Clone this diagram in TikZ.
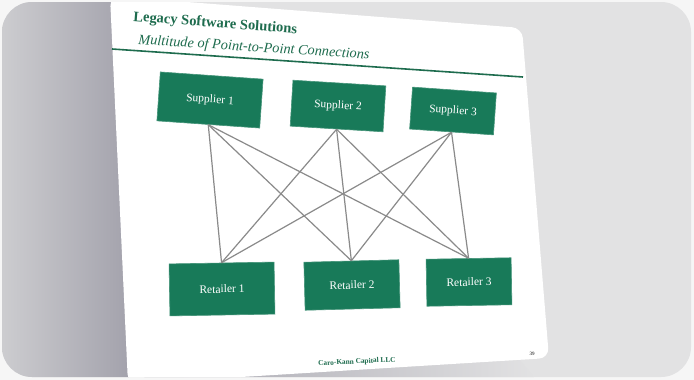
\documentclass[tikz,border=0pt]{standalone}
\usepackage{fontspec}
\setmainfont{Liberation Serif}
\usepackage{xcolor}
\usepackage{tikz}
\usetikzlibrary{positioning}
\definecolor{boxgreen}{RGB}{24,122,89}
\definecolor{titlegreen}{RGB}{30,108,78}
\definecolor{linkgray}{RGB}{138,138,138}
\definecolor{framebg}{RGB}{226,226,227}
\definecolor{outerbg}{RGB}{246,246,246}
\definecolor{shadeleft}{RGB}{205,205,208}
\definecolor{shaderight}{RGB}{163,162,172}
\tikzstyle{partybox} = [rectangle, fill=boxgreen, text=white, draw=boxgreen!80!white, line width=0.6pt, align=center, font=\fontsize{11.5}{13}\selectfont]
\tikzstyle{link} = [draw=linkgray, line width=1.2pt]
\tikzstyle{headline} = [anchor=base west, inner sep=0pt, text=titlegreen]

\begin{document}
\begin{tikzpicture}[x=1pt, y=-1pt]
\useasboundingbox (0,0) rectangle (694,380);
\fill[outerbg] (0,0) rectangle (694,380);
\begin{scope}
\clip[rounded corners=30pt] (2,2) rectangle (691,377);
\fill[framebg] (0,0) rectangle (694,380);
\shade[left color=shadeleft, right color=shaderight] (0,0) -- (111,0) -- (129,380) -- (0,380) -- cycle;
\shade[left color=shaderight, right color=framebg] (128,380) -- (128,378) -- (520,360) -- (536,380) -- cycle;
\fill[white, rounded corners=10pt] (110,-4) -- (522,28) -- (549,358) -- (128,384) -- cycle;
\end{scope}

% slide heading
\node[headline, rotate=-4.4, font=\bfseries\fontsize{14.5}{16}\selectfont] (title) at (133,21) {Legacy Software Solutions};
\node[headline, rotate=-3.7, font=\itshape\fontsize{14.3}{16}\selectfont] (subtitle) at (138,44) {Multitude of Point-to-Point Connections};
\draw[titlegreen, line width=1.6pt] (112,49) -- (523,77);

\node[partybox, rotate=-4, minimum width=103pt, minimum height=49pt] (supplier1) at (210,100) {Supplier 1};
\node[partybox, rotate=-3.5, minimum width=93pt, minimum height=46pt] (supplier2) at (338,106) {Supplier 2};
\node[partybox, rotate=-4, minimum width=84pt, minimum height=42pt] (supplier3) at (453,111) {Supplier 3};
\node[partybox, rotate=1, minimum width=105pt, minimum height=52pt] (retailer1) at (222,289) {Retailer 1};
\node[partybox, rotate=1.5, minimum width=95pt, minimum height=48pt] (retailer2) at (352,285) {Retailer 2};
\node[partybox, rotate=1, minimum width=85pt, minimum height=47pt] (retailer3) at (469,282) {Retailer 3};

\foreach \s in {1,2,3}
  \foreach \r in {1,2,3}
    \draw[link] (supplier\s.south) -- (retailer\r.north);

\node[rotate=3, text=titlegreen, font=\bfseries\fontsize{7.3}{8}\selectfont] (footer) at (357,362) {Caro-Kann Capital LLC};
\node[font=\fontsize{5}{6}\selectfont] (pagenum) at (532,354) {39};
\end{tikzpicture}
\end{document}
